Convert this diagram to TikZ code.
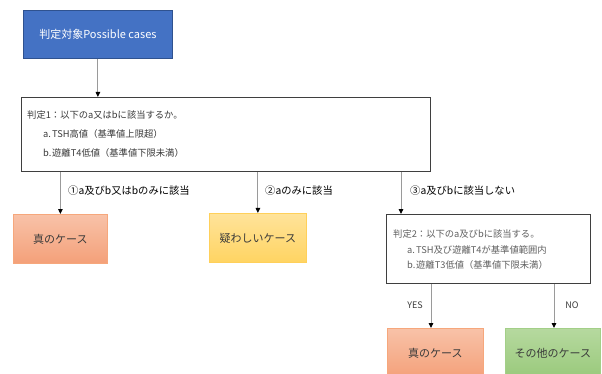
\documentclass[tikz,border=0pt]{standalone}
\usepackage{fontspec}
\setmainfont{Noto Sans CJK JP}
\usetikzlibrary{arrows.meta}
\definecolor{bluefill}{HTML}{4472C4}
\definecolor{blueedge}{HTML}{2F528F}
\definecolor{orgtop}{HTML}{F8C2A8}
\definecolor{orgbot}{HTML}{F4A079}
\definecolor{orgedge}{HTML}{F6A77C}
\definecolor{yeltop}{HTML}{FFE39A}
\definecolor{yelbot}{HTML}{FFD462}
\definecolor{yeledge}{HTML}{FFD05A}
\definecolor{grntop}{HTML}{B6D99F}
\definecolor{grnbot}{HTML}{99C97B}
\definecolor{grnedge}{HTML}{A3CF88}
\definecolor{judgeedge}{HTML}{3F3F3F}
\definecolor{conn}{HTML}{9A9A9A}
\definecolor{txtdark}{HTML}{3A3A3A}
\definecolor{txtgray}{HTML}{606060}
\tikzset{
  startbox/.style={draw=blueedge, line width=0.8pt, fill=bluefill, inner sep=0pt},
  judgebox/.style={draw=judgeedge, line width=1.4pt, fill=white, inner sep=0pt},
  orangebox/.style={draw=orgedge, line width=0.8pt, top color=orgtop, bottom color=orgbot, inner sep=0pt},
  yellowbox/.style={draw=yeledge, line width=0.8pt, top color=yeltop, bottom color=yelbot, inner sep=0pt},
  greenbox/.style={draw=grnedge, line width=0.8pt, top color=grntop, bottom color=grnbot, inner sep=0pt},
  boxtext/.style={font=\fontsize{11}{13}\selectfont, text=txtdark, inner sep=0pt},
  linetext/.style={font=\fontsize{9.3}{11}\selectfont, text=txtdark, anchor=west, inner sep=0pt},
  linetextg/.style={font=\fontsize{9.3}{11}\selectfont, text=txtgray, anchor=west, inner sep=0pt},
  lbl/.style={font=\fontsize{10.3}{12}\selectfont, text=black, anchor=west, inner sep=0pt},
  conn/.style={draw=conn, line width=0.9pt, -{Triangle[length=5pt,width=4.5pt,color=black]}},
}
\begin{document}
\begin{tikzpicture}[x=1pt,y=-1pt]
\useasboundingbox (0,0) rectangle (602,374);
% boxes
\node[startbox, minimum width=149pt, minimum height=48pt, anchor=north west] (start) at (23,10) {};
\node[font=\fontsize{11}{13}\selectfont, text=white, inner sep=0pt] (starttxt) at (start.center) {判定対象Possible cases};
\node[judgebox, minimum width=409pt, minimum height=74pt, anchor=north west] (j1) at (21,97) {};
\node[linetext] (j1a) at (27,115) {判定1：以下のa又はbに該当するか。};
\node[linetext] (j1b) at (43,134) {\makebox[9pt][l]{a.}TSH高値（基準値上限超）};
\node[linetext] (j1c) at (43,153) {\makebox[9pt][l]{b.}遊離T4低値（基準値下限未満）};
\node[orangebox, minimum width=94pt, minimum height=49pt, anchor=north west] (t1) at (13,214) {};
\node[boxtext] (t1txt) at (t1.center) {真のケース};
\node[yellowbox, minimum width=97pt, minimum height=49pt, anchor=north west] (s1) at (209,213) {};
\node[boxtext] (s1txt) at (s1.center) {疑わしいケース};
\node[judgebox, minimum width=204pt, minimum height=69pt, anchor=north west] (j2) at (386,214) {};
\node[linetextg] (j2a) at (393,234) {判定2：以下のa及びbに該当する。};
\node[linetextg] (j2b) at (407,250) {\makebox[9pt][l]{a.}TSH及び遊離T4が基準値範囲内};
\node[linetextg] (j2c) at (407,265) {\makebox[9pt][l]{b.}遊離T3低値（基準値下限未満）};
\node[orangebox, minimum width=96pt, minimum height=50pt, anchor=north west] (t2) at (387,328) {};
\node[boxtext] (t2txt) at (t2.center) {真のケース};
\node[greenbox, minimum width=95pt, minimum height=50pt, anchor=north west] (o2) at (505,328) {};
\node[boxtext] (o2txt) at (o2.center) {その他のケース};
% connectors
\draw[conn] (start.south) -- (start.south |- j1.north);
\draw[conn] (j1.south -| t1.north) -- (t1.north);
\draw[conn] (j1.south -| s1.north) -- (s1.north);
\coordinate (c3) at (401,214);
\draw[conn] (j1.south -| c3) -- (c3);
\coordinate (cy) at (431,328);
\coordinate (cn) at (554,328);
\draw[conn] (j2.south -| cy) -- (cy);
\draw[conn] (j2.south -| cn) -- (cn);
% labels
\node[lbl] (l1) at (68,191) {①a及びb又はbのみに該当};
\node[lbl] (l2) at (265,191) {②aのみに該当};
\node[lbl] (l3) at (410,191) {③a及びbに該当しない};
\node[font=\fontsize{9}{11}\selectfont, text=txtdark, inner sep=0pt] (yes) at (415,305) {YES};
\node[font=\fontsize{9}{11}\selectfont, text=txtdark, inner sep=0pt] (no) at (572,305) {NO};
\end{tikzpicture}
\end{document}
